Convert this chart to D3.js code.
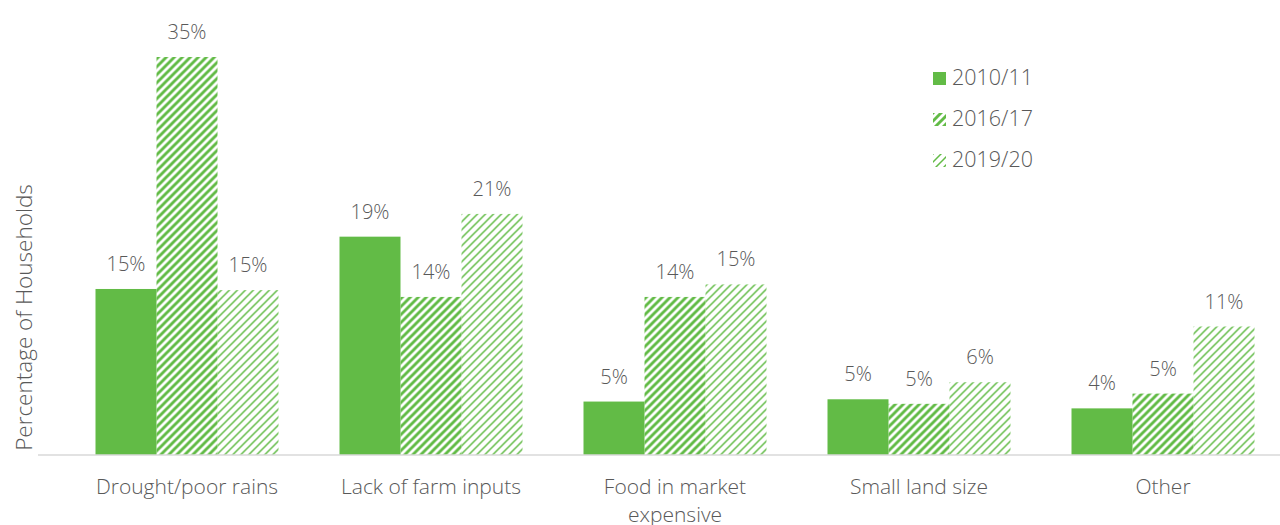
<!DOCTYPE html>
<html>
<head>
<meta charset="utf-8">
<script src="https://cdn.jsdelivr.net/npm/d3@7"></script>
<style>
  body { margin: 0; background: white; }
  svg { display: block; }
  text { font-family: "Open Sans", sans-serif; fill: #595959; }
</style>
</head>
<body>
<svg width="1280" height="525"></svg>
<script>
// chart data
const categories = ["Drought/poor rains", "Lack of farm inputs", "Food in market expensive", "Small land size", "Other"];
const seriesNames = ["2010/11", "2016/17", "2019/20"];
const values2010 = [14.6, 19.2, 4.7, 4.9, 4.1];
const values2016 = [35.0, 13.9, 13.9, 4.5, 5.4];
const values2019 = [14.5, 21.2, 15.0, 6.4, 11.3];
const seriesValues = [values2010, values2016, values2019];

const green = "#62bb46";
const svg = d3.select("svg");

// stripe patterns: solid, wide upward diagonal, light upward diagonal
const defs = svg.append("defs");
function stripes(id, w) {
    const p = defs.append("pattern")
        .attr("id", id)
        .attr("patternUnits", "userSpaceOnUse")
        .attr("width", 8).attr("height", 8);
    p.append("path")
        .attr("d", "M-2,2 L2,-2 M0,8 L8,0 M6,10 L10,6")
        .attr("stroke", green)
        .attr("stroke-width", w);
}
stripes("wide", 2.9);
stripes("light", 1.5);
const fills = [green, "url(#wide)", "url(#light)"];

const plot = { left: 65, right: 1285, top: 57, bottom: 455 };

const x = d3.scaleBand().domain(categories).range([plot.left, plot.right]).paddingInner(0.25).paddingOuter(0.125);
const xs = d3.scaleBand().domain(d3.range(seriesNames.length)).range([0, x.bandwidth()]);
const y = d3.scaleLinear().domain([0, 35]).range([plot.bottom, plot.top]);

const groups = svg.append("g").selectAll("g")
    .data(categories)
    .join("g")
    .attr("transform", d => `translate(${x(d)},0)`);

seriesNames.forEach((s, si) => {
    groups.append("rect")
        .attr("x", xs(si))
        .attr("width", xs.bandwidth())
        .attr("y", (d, i) => y(seriesValues[si][i]))
        .attr("height", (d, i) => plot.bottom - y(seriesValues[si][i]))
        .attr("fill", fills[si]);
    groups.append("text")
        .attr("x", xs(si) + xs.bandwidth() / 2)
        .attr("y", (d, i) => y(seriesValues[si][i]) - 18)
        .attr("text-anchor", "middle")
        .attr("font-size", "20px")
        .attr("font-weight", 300)
        .text((d, i) => Math.round(seriesValues[si][i]) + "%");
});

// baseline axis
const xAxis = svg.append("g")
    .attr("transform", `translate(0,${plot.bottom})`)
    .call(d3.axisBottom(x).tickSize(0).tickPadding(0).tickFormat(""));
xAxis.select(".domain").remove();
xAxis.append("line")
    .attr("x1", 38).attr("x2", 1280)
    .attr("stroke", "#d9d9d9").attr("stroke-width", 1.5);

// category labels, wrapped where the band is too narrow
const wrapAt = { "Food in market expensive": ["Food in market", "expensive"] };
xAxis.selectAll(".tick").each(function(d) {
    const lines = wrapAt[d] || [d];
    const t = d3.select(this).append("text")
        .attr("text-anchor", "middle")
        .attr("font-size", "21px")
        .attr("font-weight", 300);
    lines.forEach((l, i) => {
        t.append("tspan").attr("x", 0).attr("y", 39 + i * 28).text(l);
    });
});

// y axis title
svg.append("text")
    .attr("transform", `translate(32,${(180 + plot.bottom) / 2}) rotate(-90)`)
    .attr("text-anchor", "middle")
    .attr("font-size", "22.5px")
    .attr("font-weight", 300)
    .text("Percentage of Households");

// legend
const legend = svg.append("g").attr("transform", "translate(933,72)");
seriesNames.forEach((s, i) => {
    const g = legend.append("g").attr("transform", `translate(0,${i * 41})`);
    g.append("rect").attr("width", 13).attr("height", 13).attr("fill", fills[i]);
    g.append("text").attr("x", 19).attr("y", 13).attr("font-size", "21.5px")
        .attr("font-weight", 300).text(s);
});
</script>
</body>
</html>
